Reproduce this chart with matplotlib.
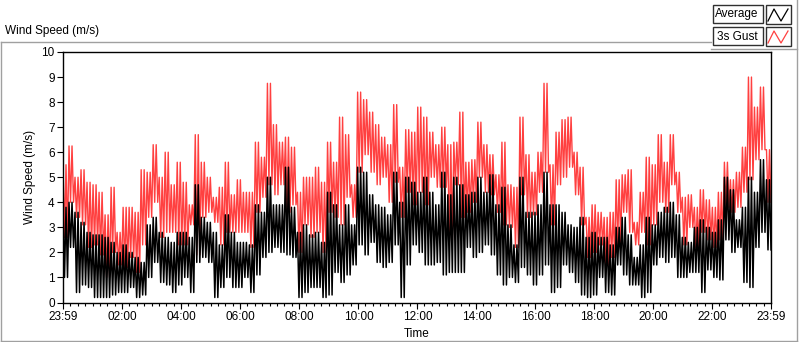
import numpy as np
import matplotlib
matplotlib.use('Agg')
import matplotlib.pyplot as plt
from matplotlib.patches import Rectangle
from matplotlib.ticker import FixedLocator

# Wind speed over one day (23:59 -> 23:59), read off the chart as
# local peak / trough per ~12 min slot
gust_hi = [5.5, 6.25, 5.0, 5.3, 4.8, 4.7, 4.4, 3.5, 4.6, 2.8, 3.8, 3.8, 3.6, 5.3, 5.2,
           6.3, 5.0, 6.0, 4.7, 5.6, 4.8, 3.9, 6.7, 5.6, 5.0, 4.2, 4.6, 5.6, 4.3, 4.9,
           4.4, 4.4, 6.4, 5.8, 8.75, 7.1, 6.4, 6.6, 6.2, 4.4, 5.0, 5.0, 5.4, 4.8, 6.4,
           5.6, 7.4, 6.7, 4.7, 8.4, 8.1, 7.6, 7.1, 6.6, 6.3, 7.9, 5.4, 6.9, 6.8, 7.8,
           7.4, 6.8, 6.3, 7.0, 6.3, 6.4, 7.6, 5.6, 5.7, 7.2, 6.3, 5.9, 5.1, 6.4, 4.7,
           4.6, 7.4, 5.9, 5.2, 6.0, 8.75, 5.5, 6.8, 7.3, 7.4, 6.0, 5.4, 3.4, 3.9, 3.6,
           3.4, 3.6, 4.9, 5.1, 5.3, 3.2, 4.4, 5.8, 5.5, 6.7, 5.6, 6.7, 5.2, 4.2, 4.3,
           3.8, 4.5, 4.1, 3.8, 4.4, 5.6, 4.9, 5.2, 6.2, 9.0, 7.8, 8.6, 6.1]
gust_lo = [2.6, 4.0, 3.4, 3.1, 2.2, 2.3, 1.9, 1.0, 2.0, 1.5, 1.4, 1.8, 1.2, 2.3, 3.4,
           4.0, 2.6, 2.8, 2.8, 2.3, 2.3, 3.1, 1.9, 3.4, 3.6, 3.2, 2.3, 2.8, 2.8, 2.8,
           2.8, 2.2, 3.6, 4.2, 4.7, 4.3, 4.7, 3.6, 3.9, 2.0, 3.1, 2.6, 2.8, 2.0, 3.6,
           3.4, 3.1, 4.2, 3.4, 5.2, 5.9, 5.2, 4.7, 5.0, 4.0, 4.8, 3.4, 4.4, 3.9, 4.4,
           3.9, 5.0, 4.6, 4.6, 2.4, 4.7, 3.4, 3.6, 4.0, 5.0, 4.4, 4.3, 3.6, 3.1, 3.0,
           2.2, 4.3, 3.4, 3.5, 4.4, 5.2, 3.1, 4.7, 5.0, 5.4, 4.3, 3.1, 1.8, 2.0, 2.3,
           1.5, 1.8, 2.3, 3.6, 2.8, 2.3, 2.8, 2.3, 3.1, 4.0, 3.6, 4.7, 3.6, 2.3, 3.0,
           2.2, 2.8, 2.5, 2.2, 2.5, 3.8, 3.6, 3.8, 4.4, 4.9, 5.7, 6.1, 4.0]
avg_hi = [3.8, 4.0, 3.6, 3.2, 2.8, 2.7, 2.7, 2.6, 2.4, 2.0, 2.3, 2.0, 1.8, 1.6, 3.1,
          3.4, 2.8, 2.6, 2.4, 2.8, 2.8, 2.6, 4.7, 3.4, 3.2, 2.8, 2.3, 3.5, 2.8, 2.4,
          2.4, 2.3, 3.9, 3.6, 5.0, 3.9, 3.9, 5.4, 3.8, 2.8, 3.1, 2.7, 2.8, 2.4, 4.4,
          3.9, 3.1, 3.9, 3.1, 5.4, 5.2, 4.3, 3.9, 3.8, 3.5, 5.2, 4.0, 5.0, 4.8, 4.4,
          5.0, 4.4, 3.9, 5.2, 4.3, 5.0, 4.7, 4.3, 4.4, 5.0, 4.4, 5.1, 3.9, 4.6, 3.1,
          2.3, 5.0, 3.6, 3.6, 3.9, 5.2, 3.9, 3.9, 3.6, 3.1, 3.0, 3.4, 2.6, 2.8, 2.6,
          2.6, 2.3, 3.0, 3.4, 2.7, 1.8, 2.3, 3.4, 3.1, 3.6, 3.8, 4.0, 3.5, 2.6, 2.4,
          3.0, 3.3, 3.0, 2.8, 3.3, 5.0, 4.5, 3.3, 3.8, 5.0, 4.4, 5.7, 4.9]
avg_lo = [1.0, 2.2, 0.4, 0.7, 0.6, 0.2, 0.2, 0.2, 0.3, 0.4, 0.4, 0.6, 0.2, 0.3, 1.0,
          1.6, 0.8, 0.7, 0.4, 0.7, 1.0, 0.4, 1.6, 1.8, 1.6, 0.2, 0.6, 1.0, 0.6, 0.6,
          1.0, 0.4, 1.1, 1.8, 2.0, 2.2, 2.0, 1.9, 1.8, 0.2, 0.4, 0.6, 0.6, 0.2, 0.3,
          1.2, 0.8, 1.1, 1.5, 2.3, 1.9, 2.4, 1.6, 1.4, 1.6, 2.3, 0.2, 1.5, 2.3, 2.0,
          1.5, 1.5, 1.6, 1.1, 1.2, 1.2, 1.2, 2.2, 1.8, 2.0, 2.3, 1.9, 1.1, 0.7, 1.0,
          0.8, 1.4, 1.1, 0.7, 1.1, 1.5, 0.4, 0.6, 1.5, 1.2, 0.8, 0.3, 0.2, 0.3, 1.0,
          0.4, 0.3, 1.5, 1.1, 0.7, 0.7, 0.2, 0.4, 1.5, 1.8, 1.6, 1.8, 1.0, 1.0, 1.2,
          1.2, 0.4, 1.3, 1.0, 0.9, 2.5, 2.0, 2.2, 0.8, 0.6, 2.2, 2.8, 2.1]

tick_minutes = [0, 121, 241, 361, 481, 601, 721, 841, 961, 1081, 1201, 1321, 1440]
tick_labels = ['23:59', '02:00', '04:00', '06:00', '08:00', '10:00', '12:00',
               '14:00', '16:00', '18:00', '20:00', '22:00', '23:59']

RED = '#ff4040'
plt.rcParams['font.family'] = ['Liberation Sans', 'DejaVu Sans']
FS = 8.5

def zigzag(hi, lo):
    # each slot swings peak -> trough twice, like the per-minute trace
    s = np.empty(4 * len(hi))
    s[0::4] = hi
    s[1::4] = lo
    s[2::4] = hi
    s[3::4] = lo
    return s

gust = zigzag(gust_hi, gust_lo)
avg = zigzag(avg_hi, avg_lo)
t = np.linspace(0, 1440, len(gust))

fig = plt.figure(figsize=(8, 3.42), dpi=100)
fig.patch.set_facecolor('white')

# background overlay in pixel coordinates for frame, titles and legend
ov = fig.add_axes([0, 0, 1, 1], zorder=-1)
ov.set_xlim(0, 800)
ov.set_ylim(342, 0)
ov.axis('off')
gray = '#a0a0a0'
ov.plot([0.5, 711], [42, 42], color=gray, lw=1)
ov.plot([711, 797], [49, 49], color=gray, lw=1)
ov.plot([797, 797], [0, 341], color=gray, lw=1)
ov.plot([0.5, 0.5], [42, 341], color=gray, lw=1)
ov.plot([0.5, 797], [341, 341], color=gray, lw=1)
ov.text(5, 31, 'Wind Speed (m/s)', fontsize=FS, va='center', ha='left')
ov.text(30, 177, 'Wind Speed (m/s)', fontsize=FS, va='center', ha='center', rotation=90)
ov.text(417, 334, 'Time', fontsize=FS, va='center', ha='center')

# legend
for y0, name, col in [(5, 'Average', 'black'), (27, '3s Gust', RED)]:
    ov.add_patch(Rectangle((712.5, y0), 50, 18, facecolor='white', edgecolor='#303030', lw=1))
    ov.text(737, y0 + 9.5, name, fontsize=FS, va='center', ha='center')
    ov.add_patch(Rectangle((765.5, y0), 25, 19, facecolor='white', edgecolor='#303030', lw=1))
    ov.plot([768, 774, 781, 788], [y0 + 16, y0 + 4, y0 + 16, y0 + 4], color=col, lw=0.9)

ax = fig.add_axes([63 / 800, (342 - 302.5) / 342, 708 / 800, 250.5 / 342])
ax.plot(t, gust, color=RED, lw=1.0)
ax.plot(t, avg, color='black', lw=1.1)
ax.set_xlim(0, 1440)
ax.set_ylim(0, 10)
ax.set_yticks(range(0, 11))
ax.xaxis.set_major_locator(FixedLocator(tick_minutes))
ax.set_xticklabels(tick_labels)
ax.xaxis.set_minor_locator(FixedLocator(np.arange(0, 1441, 15)))
ax.tick_params(axis='both', which='major', labelsize=FS, length=4, width=0.8, direction='out', pad=2)
ax.tick_params(axis='x', which='minor', length=2.5, width=0.8)
for s in ax.spines.values():
    s.set_linewidth(1)

fig.savefig('out.png', dpi=100)
